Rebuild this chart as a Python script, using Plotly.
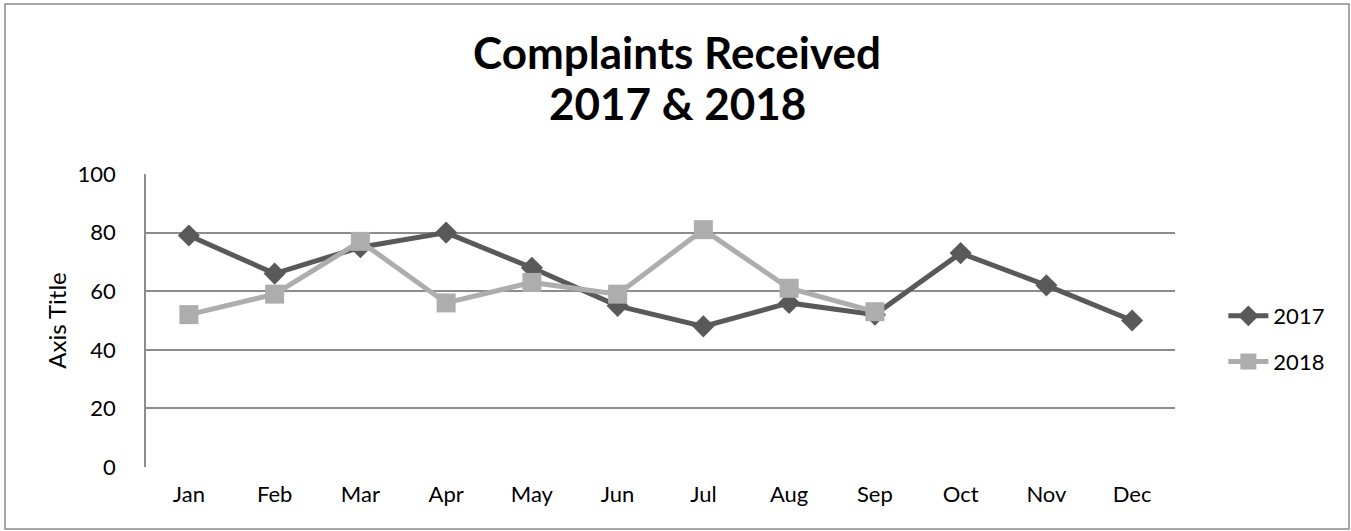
import plotly.graph_objects as go

months = ["Jan", "Feb", "Mar", "Apr", "May", "Jun", "Jul", "Aug", "Sep", "Oct", "Nov", "Dec"]
y2017 = [79, 66, 75, 80, 68, 55, 48, 56, 52, 73, 62, 50]
y2018 = [52, 59, 77, 56, 63, 59, 81, 61, 53, None, None, None]
yticks = [0, 20, 40, 60, 80, 100]
title_lines = ["Complaints Received", "2017 & 2018"]

FONT = "Lato"
L, R, T, B = 146, 176, 174, 64
W, H = 1351, 531
PW, PH = W - L - R, H - T - B

fig = go.Figure()
fig.add_trace(go.Scatter(
    x=months, y=y2017, name="2017", mode="lines+markers", legendgroup="a",
    line=dict(color="#595959", width=5),
    marker=dict(symbol="diamond", size=17, color="#595959"),
))
fig.add_trace(go.Scatter(
    x=months, y=y2018, name="2018", mode="lines+markers", legendgroup="b",
    line=dict(color="#ADADAD", width=5),
    marker=dict(symbol="square", size=19, color="#ADADAD"),
))

fig.update_layout(
    width=W, height=H,
    margin=dict(l=L, r=R, t=T, b=B),
    paper_bgcolor="white", plot_bgcolor="white",
    font=dict(family=FONT, size=22, color="black"),
    showlegend=True,
    legend=dict(
        x=1.047, xanchor="left", y=(467 - 339) / 293, yanchor="middle",
        font=dict(size=22), tracegroupgap=14, itemwidth=40,
        bgcolor="rgba(0,0,0,0)",
    ),
    xaxis=dict(
        type="category", range=[-0.5, 11.5],
        showgrid=False, showline=False, zeroline=False,
        ticks="", ticklabelstandoff=12,
    ),
    yaxis=dict(
        range=[0, 100], tickvals=yticks,
        showgrid=True, gridcolor="#8C8C8C", gridwidth=1.5,
        showline=True, linecolor="#8C8C8C", linewidth=1.5,
        zeroline=False, ticks="", ticklabelstandoff=24,
        title=dict(text="Axis Title", font=dict(size=24), standoff=4),
    ),
)

for txt, yc in zip(title_lines, [52, 103]):
    fig.add_annotation(
        text="<b>" + txt + "</b>", xref="paper", yref="paper",
        x=(677 - L) / PW, y=(T + PH - yc) / PH,
        xanchor="center", yanchor="middle", showarrow=False,
        font=dict(family=FONT, size=44, color="black"),
    )

fig.add_shape(
    type="rect", xref="paper", yref="paper",
    x0=(5 - L) / PW, x1=(1349 - L) / PW,
    y0=(T + PH - 529) / PH, y1=(T + PH - 4) / PH,
    line=dict(color="#8C8C8C", width=1.5), layer="below",
)

fig.write_html(
    "out.html",
    config={"displayModeBar": False},
    post_script="document.body.style.margin='0';document.body.style.overflow='hidden';",
)
